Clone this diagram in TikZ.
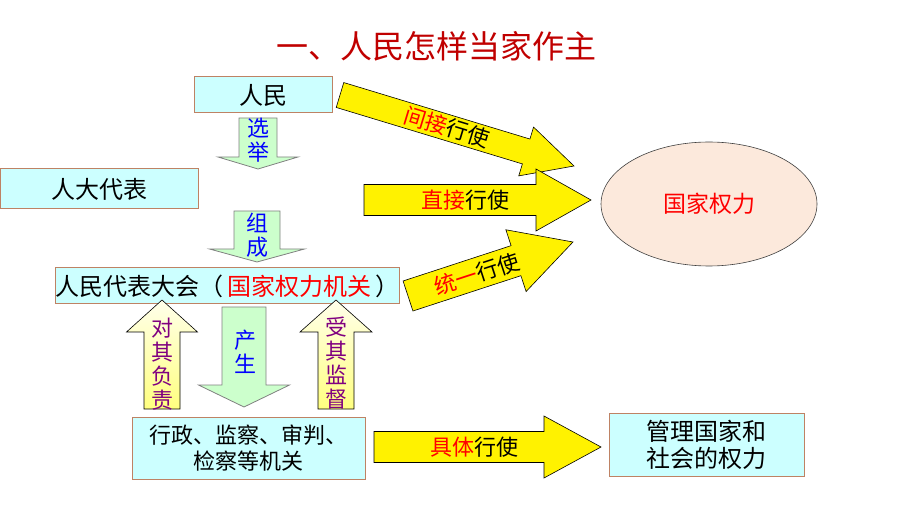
\documentclass[tikz,border=0pt]{standalone}
\usepackage{fontspec}
\setmainfont{Noto Sans CJK SC}
\usepackage{xcolor}
\usetikzlibrary{calc,shapes.geometric}
\definecolor{boxcyan}{RGB}{204,255,255}
\definecolor{boxline}{RGB}{190,130,100}
\definecolor{darkred}{RGB}{192,0,0}
\definecolor{greenfill}{RGB}{204,255,204}
\definecolor{purp}{RGB}{128,0,128}
\definecolor{peach}{RGB}{252,233,220}
\def\red(#1){\textcolor{red}{#1}}
\tikzstyle{box} = [rectangle, draw=boxline, fill=boxcyan, line width=1pt, inner sep=0pt, font=\fontsize{24}{27}\selectfont, align=center]
\tikzstyle{greenarr} = [draw=gray, fill=greenfill, line width=0.8pt]
\tikzstyle{creamarr} = [draw=black, line width=0.6pt, top color=yellow!8, bottom color=yellow!50]
\tikzstyle{yelarr} = [draw=black, fill=yellow, line width=0.6pt]
\tikzstyle{lbl} = [font=\fontsize{22}{24}\selectfont, align=center, inner sep=0pt]
% block arrow: style, tail, tip, half shaft, half head, head length
\newcommand{\blkarrow}[6]{%
  \coordinate (hb) at ($(#3)!#6!(#2)$);
  \draw[#1] ($(#2)!#4!90:(#3)$) -- ($(hb)!#4!90:(#3)$) -- ($(hb)!#5!90:(#3)$) -- (#3)
    -- ($(hb)!#5!-90:(#3)$) -- ($(hb)!#4!-90:(#3)$) -- ($(#2)!#4!-90:(#3)$) -- cycle;}

\begin{document}
\begin{tikzpicture}[x=1pt,y=-1pt]
      \useasboundingbox (0,0) rectangle (907,510);
      \node (title) at (436,46) {\fontsize{32}{36}\selectfont\textcolor{darkred}{一、人民怎样当家作主}};
      %%%%%%%%%%%%%%%%%%%%%%%%%%%%%%%%%%%%%%%
      \node (rm) [box, minimum width=138pt, minimum height=36pt] at (263,95) {人民};
      \node (rd) [box, minimum width=198pt, minimum height=40pt] at (99,189) {人大代表};
      \node (rdh) [box, minimum width=340pt, minimum height=36pt] at (227,286) {人民代表大会（\hspace{4pt}\red(国家权力机关)\hspace{4pt}）};
      \node (xz) [box, minimum width=233pt, minimum height=62pt, font=\fontsize{22}{26}\selectfont] at (248.5,448) {行政、监察、审判、\\检察等机关};
      \node (gl) [box, minimum width=195pt, minimum height=63pt, font=\fontsize{24}{27}\selectfont] at (706.5,444.5) {管理国家和\\社会的权力};
      \node (gj) [ellipse, draw=black!75, fill=peach, line width=0.6pt, minimum width=216pt, minimum height=124pt, font=\fontsize{23}{27}\selectfont] at (709,204) {\red(国家权力)};
      %%%%%%%%%%%%%%%%%%%%%%%%%%%%%%%%%%%%%%%
      \coordinate (xj0) at (258,118);
      \coordinate (xj1) at (258,169);
      \coordinate (zc0) at (257,211);
      \coordinate (zc1) at (257,262);
      \coordinate (cs0) at (244,307);
      \coordinate (cs1) at (244,407);
      \coordinate (fz0) at (162,409);
      \coordinate (fz1) at (162,300);
      \coordinate (jd0) at (336,409);
      \coordinate (jd1) at (336,300);
      \coordinate (jj0) at (340,95);
      \coordinate (jj1) at (574,166);
      \coordinate (zj0) at (364,200);
      \coordinate (zj1) at (591,200);
      \coordinate (ty0) at (408,296);
      \coordinate (ty1) at (573,242);
      \coordinate (jt0) at (374,447);
      \coordinate (jt1) at (601,447);
      \blkarrow{greenarr}{xj0}{xj1}{19pt}{40pt}{12pt}
      \blkarrow{greenarr}{zc0}{zc1}{23pt}{47.5pt}{13pt}
      \blkarrow{greenarr}{cs0}{cs1}{22pt}{45.5pt}{22pt}
      \blkarrow{creamarr}{fz0}{fz1}{18pt}{35.5pt}{32pt}
      \blkarrow{creamarr}{jd0}{jd1}{18pt}{36pt}{32pt}
      \blkarrow{yelarr}{jj0}{jj1}{13pt}{25.5pt}{50pt}
      \blkarrow{yelarr}{zj0}{zj1}{15.5pt}{31pt}{55pt}
      \blkarrow{yelarr}{ty0}{ty1}{15.8pt}{32.5pt}{60pt}
      \blkarrow{yelarr}{jt0}{jt1}{15.5pt}{31pt}{57pt}
      %%%%%%%%%%%%%%%%%%%%%%%%%%%%%%%%%%%%%%%
      \node (xjl) [lbl, text=blue] at (258,140) {选\\举};
      \node (zcl) [lbl, text=blue] at (257,235) {组\\成};
      \node (csl) [lbl, text=blue] at (245,352) {产\\生};
      \node (fzl) [lbl, text=purp] at (162,364) {对\\其\\负\\责};
      \node (jdl) [lbl, text=purp] at (336,363) {受\\其\\监\\督};
      \node (jjl) [lbl, rotate=-16.9] at (447,127) {\red(间接)行使};
      \node (zjl) [lbl] at (465,200) {\red(直接)行使};
      \node (tyl) [lbl, rotate=18.1] at (477,274) {\red(统一)行使};
      \node (jtl) [lbl] at (474,447) {\red(具体)行使};
      \end{tikzpicture}
\end{document}
